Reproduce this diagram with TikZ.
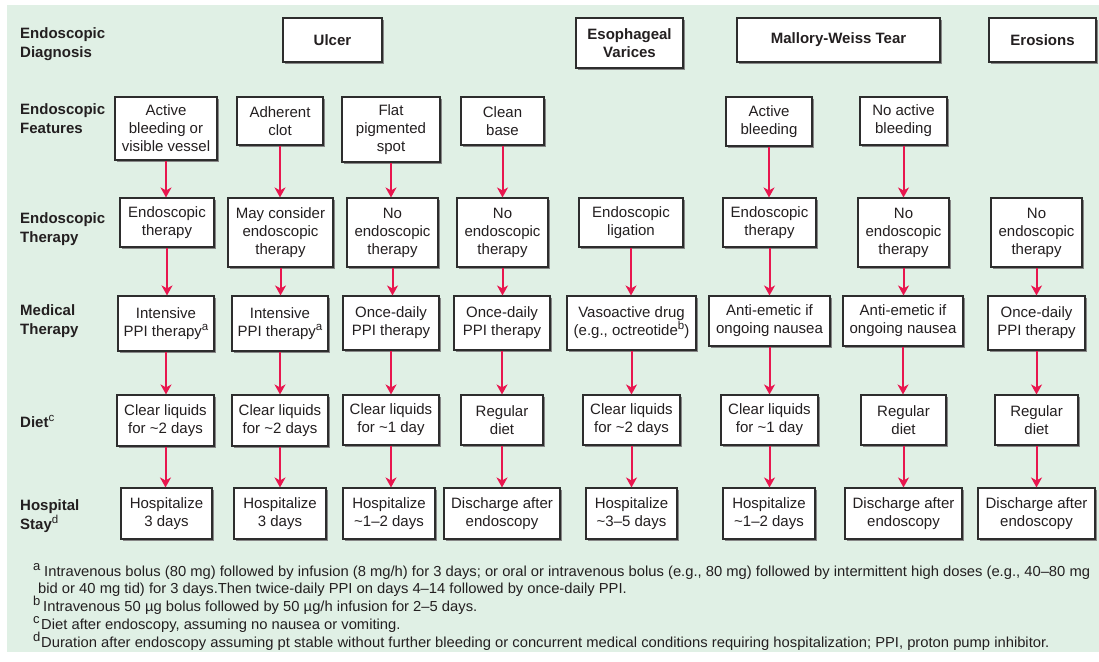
\documentclass[tikz,border=0pt]{standalone}
\usepackage{fontspec}
\setmainfont{Liberation Sans}
\usepackage{graphicx}
\usetikzlibrary{shadows,arrows.meta}
\definecolor{bg}{RGB}{224,240,229}
\definecolor{arrowred}{RGB}{232,22,78}
\definecolor{boxline}{RGB}{45,45,45}
\definecolor{shadowgray}{RGB}{135,135,135}
\definecolor{txt}{RGB}{35,31,32}
\newlength\fnw
\newcommand\fnfont{\fontsize{14.5}{17}\selectfont}
\newcommand\fnline[1]{\scalebox{\fnsx}[1]{\fnfont #1}}
\newcommand\supx[1]{\raisebox{6pt}{\fontsize{11.5}{11.5}\selectfont\mdseries #1}}
\newcommand\fnsup[2]{\makebox[#1pt][l]{\raisebox{6pt}{\fontsize{13}{13}\selectfont #2}}}
\newcommand\bx[6]{\node[box, minimum width={#4pt-#2pt}, minimum height={#5pt-#3pt}] (#1) at ({(#2+#4)/2},{(#3+#5)/2}) {#6};}
\newcommand\hx[6]{\node[box, font=\fontsize{15}{18}\selectfont\bfseries, minimum width={#4pt-#2pt}, minimum height={#5pt-#3pt}] (#1) at ({(#2+#4)/2},{(#3+#5)/2}) {#6};}
\tikzset{
 box/.style={draw=boxline, line width=1.1pt, fill=white, align=center, inner sep=0pt, text=txt,
   font=\fontsize{15}{18}\selectfont,
   drop shadow={shadow xshift=2pt, shadow yshift=-2pt, fill=shadowgray, opacity=1}},
 rowlabel/.style={anchor=west, align=left, inner sep=0pt, text=txt, font=\fontsize{15}{19}\selectfont\bfseries},
 arr/.style={draw=arrowred, line width=2pt, -{Stealth[length=10pt,width=11pt,inset=3pt]}},
 fn/.style={anchor=base west, inner sep=0pt, text=txt, font=\fnfont},
}
\begin{document}
\settowidth\fnw{\fnfont Intravenous bolus (80 mg) followed by infusion (8 mg/h) for 3 days; or oral or intravenous bolus (e.g., 80 mg) followed by intermittent high doses (e.g., 40–80 mg}%
\pgfmathsetmacro\fnsx{1046/\fnw}%
\begin{tikzpicture}[x=1pt,y=-1pt]
\useasboundingbox (0,0) rectangle (1099,661);
\fill[white] (0,0) rectangle (1099,661);
\fill[bg] (7,5) rectangle (1099,652);
% row labels
\node[rowlabel] (l1) at (20,44) {Endoscopic\\Diagnosis};
\node[rowlabel] (l2) at (20,119) {Endoscopic\\Features};
\node[rowlabel] (l3) at (20,229) {Endoscopic\\Therapy};
\node[rowlabel] (l4) at (20,321) {Medical\\Therapy};
\node[rowlabel] (l5) at (20,421) {Diet\supx{c}};
\node[rowlabel] (l6) at (20,516) {Hospital\\Stay\supx{d}};
% headers
\hx{h1}{283}{18}{382}{62}{Ulcer}
\hx{h2}{576}{18}{683}{68}{Esophageal\\Varices}
\hx{h3}{737}{18}{940}{62}{Mallory-Weiss Tear}
\hx{h4}{989}{18}{1096}{62}{Erosions}
% features
\bx{f1}{115}{97}{217}{160}{Active\\bleeding or\\visible vessel}
\bx{f2}{237}{97}{323}{145}{Adherent\\clot}
\bx{f3}{342}{97}{440}{162}{Flat\\pigmented\\spot}
\bx{f4}{461}{97}{544}{145}{Clean\\base}
\bx{f6}{726}{97}{812}{146}{Active\\bleeding}
\bx{f7}{860}{97}{947}{145}{No active\\bleeding}
% endoscopic therapy
\bx{t1}{120}{198}{214}{247}{Endoscopic\\therapy}
\bx{t2}{228}{198}{333}{267}{May consider\\endoscopic\\therapy}
\bx{t3}{347}{198}{438}{267}{No\\endoscopic\\therapy}
\bx{t4}{457}{198}{548}{267}{No\\endoscopic\\therapy}
\bx{t5}{579}{198}{683}{247}{Endoscopic\\ligation}
\bx{t6}{723}{198}{816}{247}{Endoscopic\\therapy}
\bx{t7}{858}{198}{949}{267}{No\\endoscopic\\therapy}
\bx{t8}{991}{198}{1082}{267}{No\\endoscopic\\therapy}
% medical therapy
\bx{m1}{118}{296}{214}{351}{Intensive\\PPI therapy\supx{a}}
\bx{m2}{232}{296}{328}{351}{Intensive\\PPI therapy\supx{a}}
\bx{m3}{343}{296}{439}{350}{Once-daily\\PPI therapy}
\bx{m4}{454}{296}{550}{350}{Once-daily\\PPI therapy}
\bx{m5}{567}{296}{696}{350}{Vasoactive drug\\(e.g., octreotide\supx{b})}
\bx{m6}{709}{296}{830}{346}{Anti-emetic if\\ongoing nausea}
\bx{m7}{843}{296}{963}{346}{Anti-emetic if\\ongoing nausea}
\bx{m8}{988}{296}{1085}{350}{Once-daily\\PPI therapy}
% diet
\bx{d1}{117}{395}{214}{446}{Clear liquids\\for \textasciitilde 2 days}
\bx{d2}{232}{395}{328}{446}{Clear liquids\\for \textasciitilde 2 days}
\bx{d3}{343}{395}{439}{445}{Clear liquids\\for \textasciitilde 1 day}
\bx{d4}{461}{395}{543}{445}{Regular\\diet}
\bx{d5}{583}{395}{680}{445}{Clear liquids\\for \textasciitilde 2 days}
\bx{d6}{721}{395}{818}{445}{Clear liquids\\for \textasciitilde 1 day}
\bx{d7}{861}{395}{946}{445}{Regular\\diet}
\bx{d8}{995}{395}{1078}{445}{Regular\\diet}
% hospital stay
\bx{s1}{121}{488}{212}{539}{Hospitalize\\3 days}
\bx{s2}{234}{488}{326}{539}{Hospitalize\\3 days}
\bx{s3}{343}{488}{435}{539}{Hospitalize\\\textasciitilde 1–2 days}
\bx{s4}{444}{488}{560}{539}{Discharge after\\endoscopy}
\bx{s5}{586}{488}{677}{539}{Hospitalize\\\textasciitilde 3–5 days}
\bx{s6}{723}{488}{815}{539}{Hospitalize\\\textasciitilde 1–2 days}
\bx{s7}{845}{488}{962}{539}{Discharge after\\endoscopy}
\bx{s8}{978}{488}{1095}{539}{Discharge after\\endoscopy}
% arrows
\foreach \a/\b in {f1/t1,t1/m1,m1/d1,d1/s1, f2/t2,t2/m2,m2/d2,d2/s2,
  f3/t3,t3/m3,m3/d3,d3/s3, f4/t4,t4/m4,m4/d4,d4/s4,
  t5/m5,m5/d5,d5/s5, f6/t6,t6/m6,m6/d6,d6/s6,
  f7/t7,t7/m7,m7/d7,d7/s7, t8/m8,m8/d8,d8/s8}
  \draw[arr] (\a.south) -- (\a.south |- \b.north);
% footnotes
\node[fn] (fa) at (33,576) {\fnsup{11}{a}\fnline{Intravenous bolus (80 mg) followed by infusion (8 mg/h) for 3 days; or oral or intravenous bolus (e.g., 80 mg) followed by intermittent high doses (e.g., 40–80 mg}};
\node[fn] (fa2) at (38,593) {\fnline{bid or 40 mg tid) for 3 days.Then twice-daily PPI on days 4–14 followed by once-daily PPI.}};
\node[fn] (fb) at (33,611) {\fnsup{10}{b}\fnline{Intravenous 50 µg bolus followed by 50 µg/h infusion for 2–5 days.}};
\node[fn] (fc) at (33,629) {\fnsup{8}{c}\fnline{Diet after endoscopy, assuming no nausea or vomiting.}};
\node[fn] (fd) at (33,647) {\fnsup{8}{d}\fnline{Duration after endoscopy assuming pt stable without further bleeding or concurrent medical conditions requiring hospitalization; PPI, proton pump inhibitor.}};
\end{tikzpicture}
\end{document}
